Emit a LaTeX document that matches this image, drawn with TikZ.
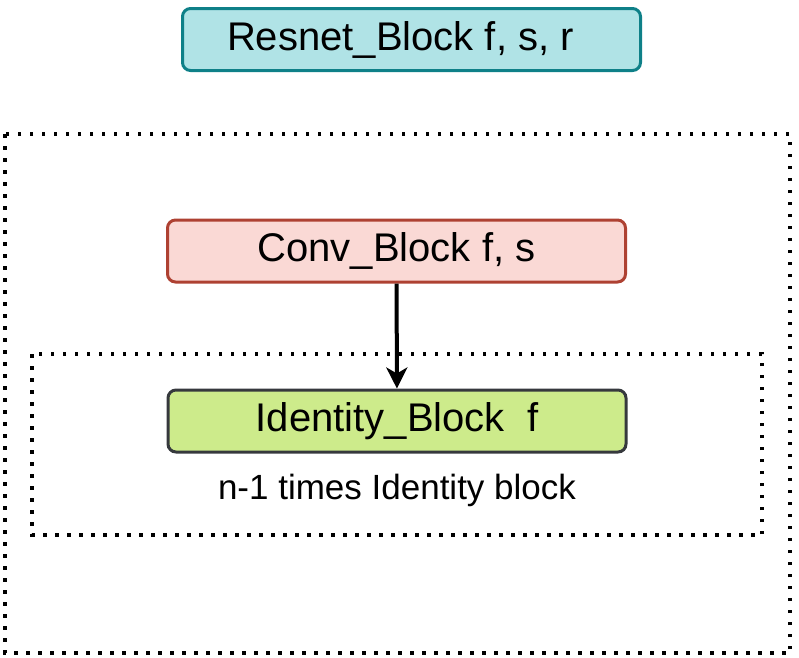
\documentclass[tikz,border=0pt]{standalone}
\usepackage{fontspec}
\setmainfont{Liberation Sans}
\usetikzlibrary{arrows.meta}
\definecolor{tealfill}{HTML}{B0E3E6}
\definecolor{tealline}{HTML}{0E8088}
\definecolor{redfill}{HTML}{FAD9D5}
\definecolor{redline}{HTML}{AE4132}
\definecolor{greenfill}{HTML}{CDEB8B}
\definecolor{greyline}{HTML}{36393D}
\begin{document}
\begin{tikzpicture}[x=1pt,y=-1pt,
       block/.style={rectangle,draw,rounded corners=8pt,line width=3pt,
                     minimum width=458pt,minimum height=62pt,inner sep=0pt,
                     font=\fontsize{40}{48}\selectfont},
       resnet/.style={block,draw=tealline,fill=tealfill},
       conv/.style={block,draw=redline,fill=redfill},
       ident/.style={block,draw=greyline,fill=greenfill},
       group/.style={line width=3.5pt,dash pattern=on 3.5pt off 8.5pt}]
   \useasboundingbox (0,0) rectangle (799,657);
   \draw [group] (5,134) rectangle (790,653);
   \draw [group] (32,354) rectangle (762,535);
   \node [resnet] (res) at (411.5,39.5) {Resnet\_Block f, s, r\hspace*{22pt}};
   \node [conv] (conv) at (396.5,251) {Conv\_Block f, s};
   \node [ident] (id) at (397,421) {Identity\_Block\ \ f};
   \node [font=\fontsize{35}{42}\selectfont] (times) at (397,490) {n-1 times Identity block};
   \draw [-{Stealth[length=21pt,width=21pt,inset=6pt]},line width=4pt] (conv) -- (id);
\end{tikzpicture}
\end{document}
